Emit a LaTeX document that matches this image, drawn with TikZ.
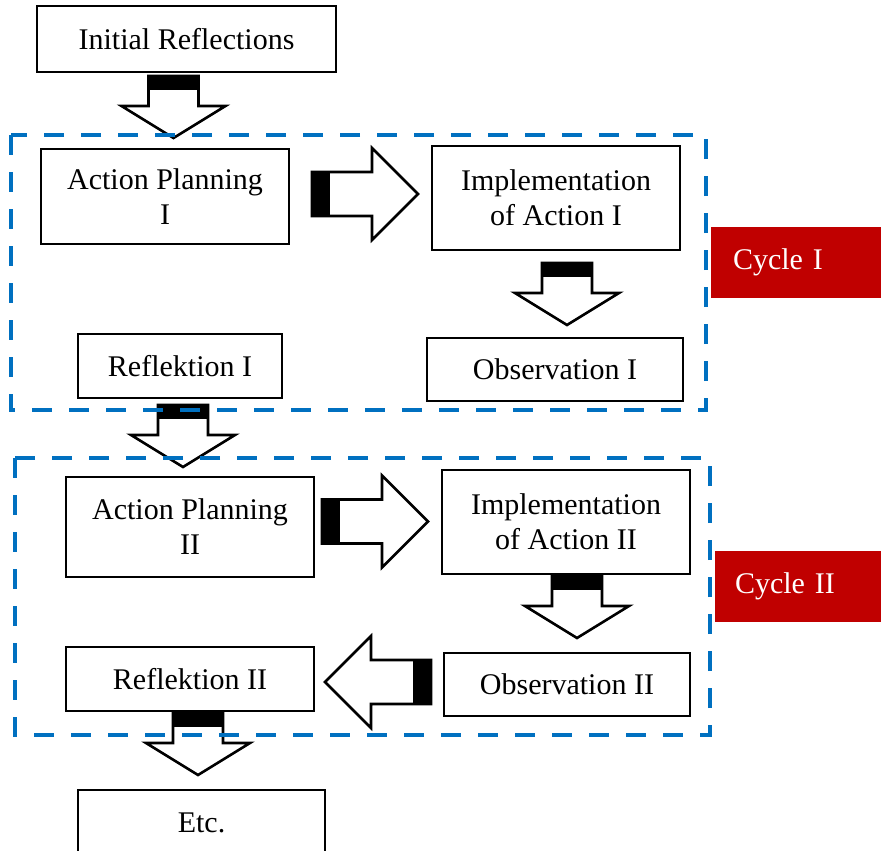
\documentclass[tikz,border=0pt]{standalone}
\usepackage{fontspec}
\setmainfont{Liberation Serif}
\usepackage{xcolor}
\usetikzlibrary{positioning,calc}

\definecolor{cycleblue}{RGB}{0,112,192}
\definecolor{cyclered}{RGB}{192,0,0}

\tikzset{
	stage/.style={draw, line width=1.6pt, fill=white, align=center, inner sep=0pt,
		minimum width=248pt, minimum height=64pt,
		font=\fontsize{30}{35}\selectfont},
	cyclelabel/.style={fill=cyclered, text=white, minimum width=170pt, minimum height=71pt,
		inner sep=0pt, text width=126pt, align=left,
		font=\fontsize{30}{35}\selectfont},
	cyclebox/.style={draw=cycleblue, line width=4pt, dash pattern=on 20pt off 17pt},
	downblock/.pic={
		\draw[line width=2.6pt, fill=white, line join=miter]
			(-25,0) -- (-25,30) -- (-52,30) -- (0,62) -- (52,30) -- (25,30) -- (25,0) -- cycle;
		\fill (-26,-1) rectangle (26,14);
	},
	sideblock/.pic={
		\draw[line width=2.6pt, fill=white, line join=miter]
			(0,-22) -- (60,-22) -- (60,-46) -- (106,0) -- (60,46) -- (60,22) -- (0,22) -- cycle;
		\fill (-1,-23) rectangle (18,23);
	}
}

\begin{document}
\begin{tikzpicture}[x=1pt, y=-1pt]
		\useasboundingbox (0,0) rectangle (881,851);
		\clip (0,0) rectangle (881,851);

		% boxes of the first cycle
		\node[stage, minimum width=299pt, minimum height=66pt] (init) at (186.5,39) {Initial Reflections};
		\node[stage, minimum height=95pt] (plan1) at (165,196.5) {Action Planning\\I};
		\node[stage, minimum height=104pt] (impl1) at (556,198) {Implementation\\of Action I};
		\node[stage, minimum width=256pt, minimum height=63pt] (obs1) at (555,369.5) {Observation I};
		\node[stage, minimum width=204pt] (refl1) at (180,366) {Reflektion I};
		\node[cyclelabel] (cyc1) at (796,262.5) {Cycle I};

		% boxes of the second cycle
		\node[stage, minimum height=100pt] (plan2) at (190,527) {Action Planning\\II};
		\node[stage, minimum height=104pt] (impl2) at (566,522) {Implementation\\of Action II};
		\node[stage, minimum width=246pt, minimum height=63pt] (obs2) at (567,684.5) {Observation II};
		\node[stage] (refl2) at (190,679) {Reflektion II};
		\node[cyclelabel, minimum width=166pt] (cyc2) at (798,586.5) {Cycle II};

		\node[stage, minimum width=247pt, minimum height=66pt] (etc) at (201.5,823) {Etc.};

		% block arrows
		\pic at (173.5,76) {downblock};
		\pic at (312,194) {sideblock};
		\pic at (567,263) {downblock};
		\pic at (183,405) {downblock};
		\pic at (322,521.5) {sideblock};
		\pic at (577,576) {downblock};
		\pic[rotate=180] at (431,682) {sideblock};
		\pic at (198,713) {downblock};

		% dashed cycle frames
		\draw[cyclebox] (11,135) rectangle (706,410);
		\draw[cyclebox] (15,458) rectangle (710,735);
	\end{tikzpicture}
\end{document}
